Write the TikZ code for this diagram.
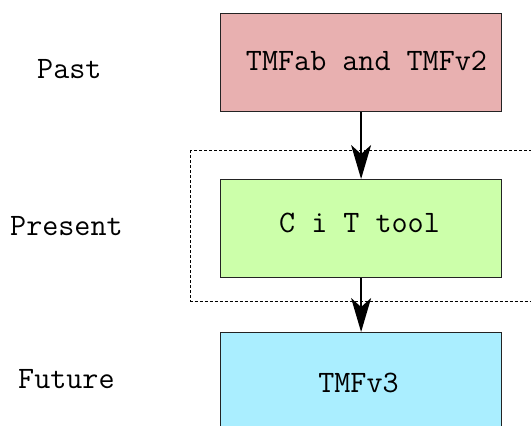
\documentclass[tikz,border=0pt]{standalone}
\usepackage{fontspec}
\usetikzlibrary{arrows.meta}
\definecolor{pastfill}{RGB}{232,176,176}
\definecolor{presentfill}{RGB}{204,255,170}
\definecolor{futurefill}{RGB}{170,238,255}
\definecolor{boxline}{RGB}{35,35,35}
\tikzset{
  stagebox/.style={draw=boxline, line width=1.2pt, minimum width=281pt,
    minimum height=98pt, inner sep=0pt, anchor=north west},
  monotext/.style={font=\ttfamily\fontsize{31.2}{34}\selectfont,
    inner sep=0pt, anchor=base},
  sidetext/.style={monotext, anchor=base west},
  flow/.style={-{Stealth[length=34pt,width=20pt,inset=9pt]}, line width=1.5pt},
  frame/.style={draw=black, line width=0.8pt, dash pattern=on 3pt off 2pt}
}
\begin{document}
\begin{tikzpicture}[x=1pt,y=-1pt]
  \useasboundingbox (0,0) rectangle (531,426);
  \clip (0,0) rectangle (531,426);

  % dashed frame around the present stage
  \draw[frame] (190.5,150) rectangle (545,301);

  % stage boxes
  \node[stagebox, fill=pastfill]    (past)    at (220,13)  {};
  \node[stagebox, fill=presentfill] (present) at (220,179) {};
  \node[stagebox, fill=futurefill, minimum height=120pt] (future) at (220,332) {};

  % box texts
  \node[monotext] (pasttxt)    at (366.5,70)  {TMFab and TMFv2};
  \node[monotext] (presenttxt) at (359.5,232) {C i T tool};
  \node[monotext] (futuretxt)  at (358.5,392) {TMFv3};

  % time labels
  \node[sidetext] (lpast)    at (37,78)  {Past};
  \node[sidetext] (lpresent) at (10,235) {Present};
  \node[sidetext] (lfuture)  at (18,388) {Future};

  % connectors
  \draw[flow] (past.south) -- (present.north);
  \draw[flow] (present.south) -- (future.north);
\end{tikzpicture}
\end{document}
